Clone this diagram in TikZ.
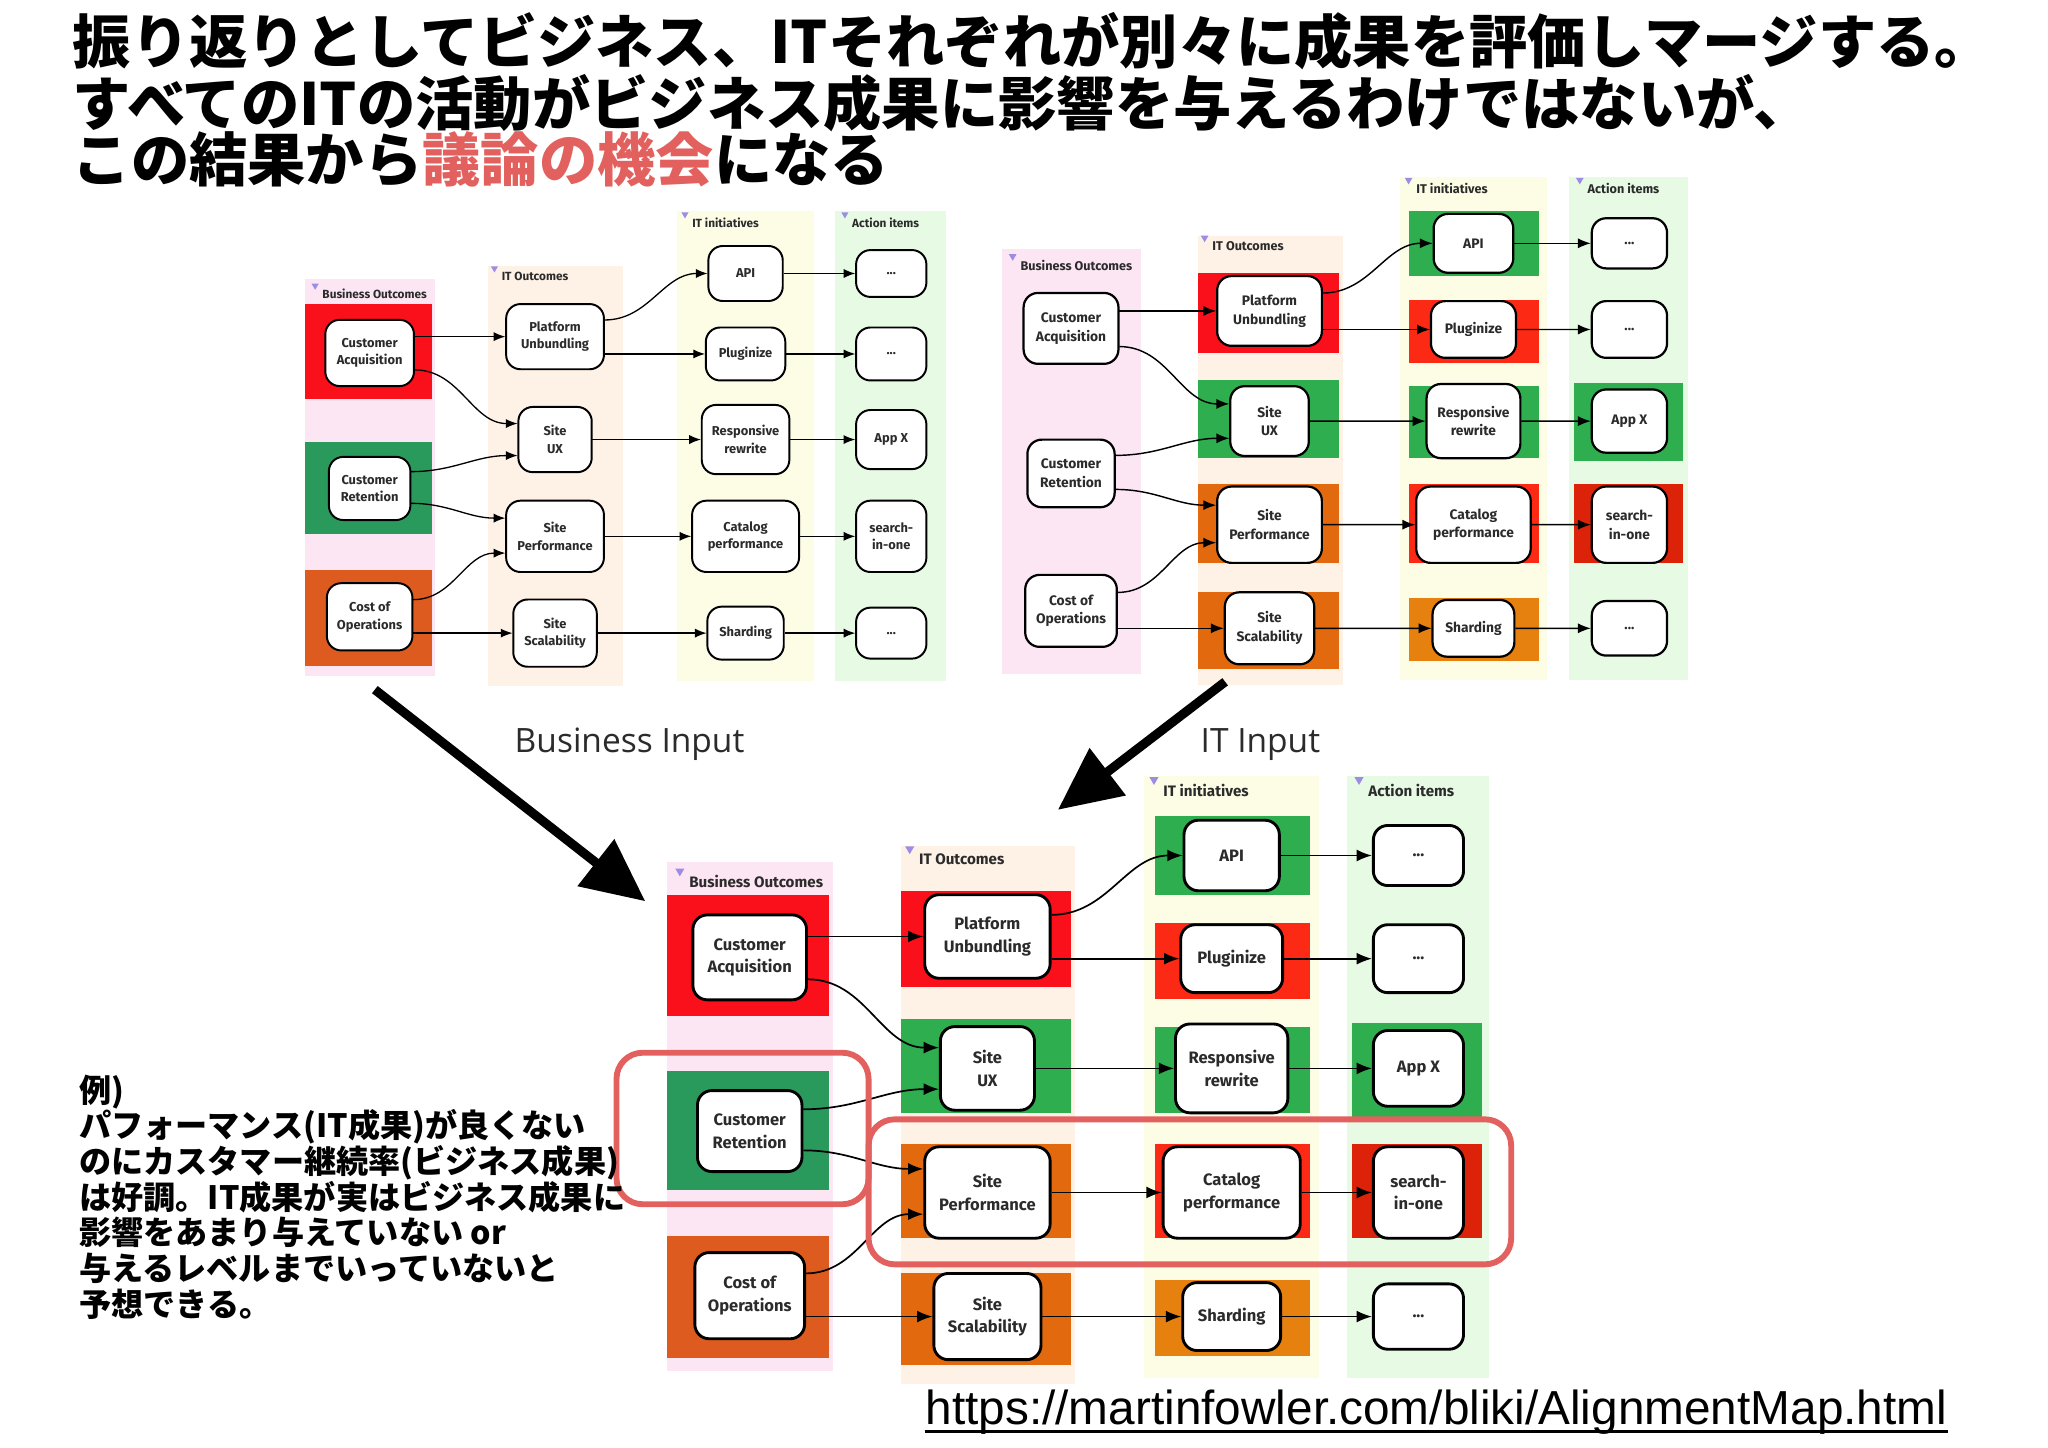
\documentclass[tikz,border=0pt]{standalone}
\usepackage{fontspec}
\usepackage{xcolor}
\usepackage{tikz}
\usetikzlibrary{arrows.meta, calc}

\setmainfont{Fira Sans}
\newfontfamily\jpfont{Noto Sans CJK JP}
\newfontfamily\urlfont{Liberation Sans}
\newfontfamily\capfont{Open Sans}

\definecolor{bored}{HTML}{F9101A}
\definecolor{itred}{HTML}{FC2A14}
\definecolor{dkred}{HTML}{DC230A}
\definecolor{bogreen}{HTML}{2A9A5C}
\definecolor{itgreen}{HTML}{2EAE4E}
\definecolor{boorange}{HTML}{DD5B1E}
\definecolor{itorange}{HTML}{E3690E}
\definecolor{shorange}{HTML}{E6800F}
\definecolor{bgpink}{HTML}{FCE6F3}
\definecolor{bgpeach}{HTML}{FEF1E6}
\definecolor{bgyellow}{HTML}{FDFDE6}
\definecolor{bggreen}{HTML}{E6FAE4}
\definecolor{marker}{HTML}{9C8CE6}
\definecolor{labtext}{HTML}{2B2B2B}
\definecolor{hlred}{HTML}{E2615E}

\tikzset{
  box/.style={rectangle, draw=black, fill=white, rounded corners=1.1mm,
              align=center, inner sep=0pt, text=labtext,
              font=\fontsize{3.6}{4.9}\selectfont\bfseries},
  sz/.style 2 args={minimum width=#1mm, minimum height=#2mm},
  collabel/.style={anchor=west, inner sep=0pt, text=labtext,
                   font=\fontsize{3.3}{4}\selectfont\bfseries},
  link/.style={-{Latex[length=0pt 9, width=0pt 7]}},
  bigarrow/.style={-{Triangle[length=4.8mm, width=4.4mm]}, line width=0.7mm},
  inlabel/.style={inner sep=0pt, text=labtext, font=\capfont\fontsize{7.3}{8}\selectfont},
  title/.style={anchor=base west, inner sep=0pt,
                font=\jpfont\bfseries\fontsize{12.7}{13.5}\selectfont},
  note/.style={anchor=north west, align=left, inner sep=0pt,
               font=\jpfont\bfseries\fontsize{7}{7.77}\selectfont},
  hilite/.style={draw=hlred, line width=0.45mm, rounded corners=2mm}
}

% column strips and their headers (map units, origin = Business Outcomes header)
\newcommand{\mapcols}[1]{%
  \fill[bgpink]   (-63,-15) rectangle (64,375);
  \fill[bgpeach]  (116,-27) rectangle (249,385);
  \fill[bgyellow] (302,-81) rectangle (436,380);
  \fill[bggreen]  (457,-81) rectangle (566,380);
  \foreach \x/\y/\t [count=\i] in {-57/0/Business Outcomes, 119/-17/IT Outcomes,
      306/-70/IT initiatives, 463/-70/Action items} {
    \fill[marker] (\x,\y-10) -- ++(7,0) -- ++(-3.5,6) -- cycle;
    \node[collabel] (#1head\i) at (\x+10,\y) {\t};
  }%
}

% business side evaluation
\newcommand{\botiles}{%
  \fill[bored]    (-63,10)  rectangle (61,103);
  \fill[bogreen]  (-63,145) rectangle (61,236);
  \fill[boorange] (-63,271) rectangle (61,365);
}

% IT side evaluation
\newcommand{\ittiles}{%
  \fill[bored]    (116,7)   rectangle (246,81);
  \fill[itgreen]  (116,105) rectangle (246,177);
  \fill[itorange] (116,201) rectangle (246,273);
  \fill[itorange] (116,300) rectangle (246,370);
  \fill[itgreen]  (310,-50) rectangle (429,10);
  \fill[itred]    (310,32)  rectangle (429,90);
  \fill[itgreen]  (310,111) rectangle (429,177);
  \fill[itred]    (310,201) rectangle (429,273);
  \fill[shorange] (310,305) rectangle (429,363);
  \fill[itgreen]  (461,108) rectangle (561,180);
  \fill[dkred]    (461,201) rectangle (561,273);
}

\newcommand{\mapnodes}[1]{%
  \node[box, sz={8.7}{6.5}] (#1ca) at (0,58)  {Customer\\Acquisition};
  \node[box, sz={8.0}{6.2}] (#1cr) at (0,191) {Customer\\Retention};
  \node[box, sz={8.4}{6.6}] (#1co) at (0,317) {Cost of\\Operations};
  \node[box, sz={9.6}{6.4}] (#1pu) at (182,42)  {Platform\\Unbundling};
  \node[box, sz={7.2}{6.4}] (#1ux) at (182,143) {Site\\UX};
  \node[box, sz={9.6}{7.0}] (#1sp) at (182,238) {Site\\Performance};
  \node[box, sz={8.2}{6.6}] (#1ss) at (182,333) {Site\\Scalability};
  \node[box, sz={7.3}{5.4}]  (#1api)   at (369,-20) {API};
  \node[box, sz={7.8}{5.2}]  (#1plug)  at (369,59)  {Pluginize};
  \node[box, sz={8.6}{6.8}]  (#1resp)  at (369,143) {Responsive\\rewrite};
  \node[box, sz={10.5}{7.0}] (#1cat)   at (369,238) {Catalog\\performance};
  \node[box, sz={7.5}{5.2}]  (#1shard) at (369,333) {Sharding};
  \node[box, sz={6.9}{4.6}] (#1act1) at (512,-20) {...};
  \node[box, sz={6.9}{5.2}] (#1act2) at (512,59)  {...};
  \node[box, sz={6.9}{5.8}] (#1act3) at (512,143) {App X};
  \node[box, sz={6.9}{7.0}] (#1act4) at (512,238) {search-\\in-one};
  \node[box, sz={6.9}{5.0}] (#1act5) at (512,333) {...};
  % business -> IT outcomes
  \draw[link] (#1ca.east |- #1pu.west) -- (#1pu.west);
  \draw[link] ($(#1ca.north east)!.75!(#1ca.south east)$) to[out=0,in=180] ($(#1ux.north west)!.26!(#1ux.south west)$);
  \draw[link] ($(#1cr.north east)!.24!(#1cr.south east)$) to[out=0,in=180] ($(#1ux.north west)!.74!(#1ux.south west)$);
  \draw[link] ($(#1cr.north east)!.73!(#1cr.south east)$) to[out=0,in=180] ($(#1sp.north west)!.25!(#1sp.south west)$);
  \draw[link] ($(#1co.north east)!.25!(#1co.south east)$) to[out=0,in=180] ($(#1sp.north west)!.73!(#1sp.south west)$);
  \draw[link] (#1co.east |- #1ss.west) -- (#1ss.west);
  % IT outcomes -> initiatives -> actions
  \draw[link] ($(#1pu.north east)!.25!(#1pu.south east)$) to[out=0,in=180] (#1api.west);
  \draw[link] (#1pu.east |- #1plug.west) -- (#1plug.west);
  \foreach \a/\b in {ux/resp, sp/cat, ss/shard, api/act1, plug/act2, resp/act3, cat/act4, shard/act5}
    \draw[link] (#1\a) -- (#1\b);
}

\begin{document}
\begin{tikzpicture}[x=0.1mm, y=-0.1mm]
  \fill[white] (0,0) rectangle (1568,1108);
  \useasboundingbox (0,0) rectangle (1568,1108);

  % title
  \node[title] (title1) at (55,49) {振り返りとしてビジネス、ITそれぞれが別々に成果を評価しマージする。};
  \node[title] (title2) at (55,96) {すべてのITの活動がビジネス成果に影響を与えるわけではないが、};
  \node[title] (title3) at (55,139) {この結果から\textcolor{hlred}{議論の機会}になる};

  % business view
  \begin{scope}[shift={(283,225)}, scale=0.78, transform shape,
      box/.append style={line width=0.15mm}, link/.append style={line width=0.1mm}]
    \mapcols{tl}
    \botiles
    \mapnodes{tl}
  \end{scope}

  % IT view
  \begin{scope}[shift={(820,203)}, scale=0.835, transform shape,
      box/.append style={line width=0.17mm}, link/.append style={line width=0.11mm}]
    \mapcols{tr}
    \ittiles
    \mapnodes{tr}
  \end{scope}

  % merged
  \begin{scope}[shift={(574,675)}, transform shape,
      box/.append style={line width=0.22mm}, link/.append style={line width=0.13mm}]
    \mapcols{mg}
    \botiles
    \ittiles
    \mapnodes{mg}
  \end{scope}

  % inputs
  \coordinate (bizfrom) at (287,528);
  \coordinate (bizto) at (494,690);
  \coordinate (itfrom) at (938,522);
  \coordinate (itto) at (810,620);
  \draw[bigarrow] (bizfrom) -- (bizto);
  \draw[bigarrow] (itfrom) -- (itto);
  \node[inlabel] (bizin) at (482,570) {Business Input};
  \node[inlabel] (itin) at (965,570) {IT Input};

  % highlight
  \draw[hilite] (472,806) rectangle (665,922);
  \draw[hilite] (665,857) rectangle (1157,968);

  \node[note] (note) at (60,822) {例)\\パフォーマンス(IT成果)が良くない\\のにカスタマー継続率(ビジネス成果)\\は好調。IT成果が実はビジネス成果に\\影響をあまり与えていない or\\与えるレベルまでいっていないと\\予想できる。};

  \node[anchor=base west, inner sep=0pt, font=\urlfont\fontsize{10.4}{12}\selectfont] (url) at (708,1091) {https://martinfowler.com/bliki/AlignmentMap.html};
  \draw[line width=0.2mm] ($(url.base west)+(0,5)$) -- ($(url.base east)+(0,5)$);
\end{tikzpicture}
\end{document}
